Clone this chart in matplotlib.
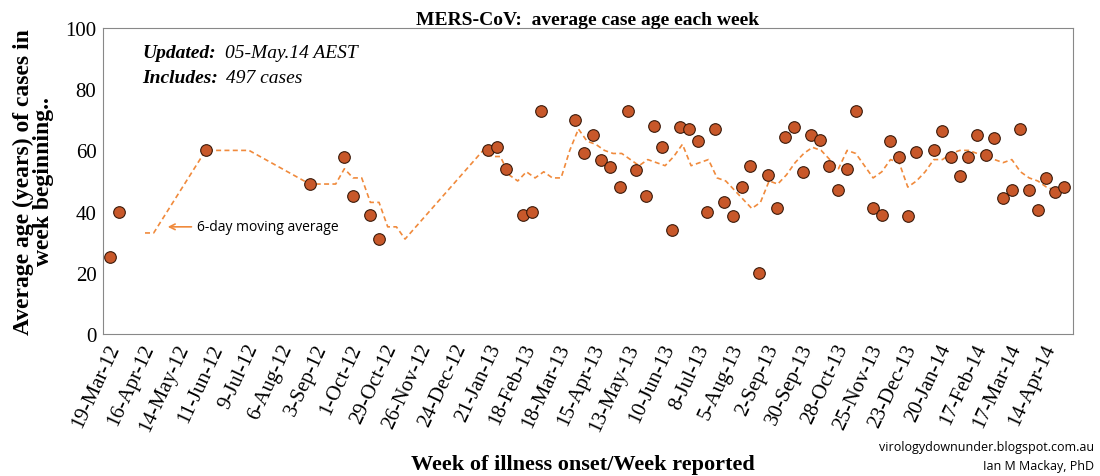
import matplotlib
matplotlib.use("Agg")
import matplotlib.pyplot as plt
import numpy as np

tick_labels = ["19-Mar-12","16-Apr-12","14-May-12","11-Jun-12","9-Jul-12","6-Aug-12","3-Sep-12",
               "1-Oct-12","29-Oct-12","26-Nov-12","24-Dec-12","21-Jan-13","18-Feb-13","18-Mar-13",
               "15-Apr-13","13-May-13","10-Jun-13","8-Jul-13","5-Aug-13","2-Sep-13","30-Sep-13",
               "28-Oct-13","25-Nov-13","23-Dec-13","20-Jan-14","17-Feb-14","17-Mar-14","14-Apr-14"]

pt_week = [0,1,11,23,27,28,30,31,43.6,44.6,45.6,47.6,48.6,49.7,53.6,54.6,55.7,56.6,57.7,58.8,59.7,60.7,
           61.8,62.7,63.7,64.8,65.7,66.7,67.8,68.8,69.7,70.8,71.8,72.9,73.8,74.8,75.9,76.9,77.8,78.9,
           79.9,80.8,81.9,82.9,84,85,86,88,89,90,91,92,93,95,96,97,98,99,100,101,102,103,104,105,106,
           107,108,109,110]
pt_age = [25,40,60,49,58,45,39,31,60,61,54,39,40,73,70,59,65,57,54.5,48,73,53.5,45,68,61,34,67.5,67,
          63,40,67,43,38.5,48,55,20,52,41,64.5,67.5,53,65,63.5,55,47,54,73,41,39,63,58,38.5,59.5,60,
          66.5,58,51.5,58,65,58.5,64,44.5,47,67,47,40.5,51,46.5,48]

ma_week = [4,5,11,16,23,26,27,28,29,30,31,32,33,34]+list(range(43,111))
ma_val = [33,33,60,60,49,49,54,51,51,43,43,35,35,31,
          60,58,58,52,50,53,51,53,51,51,60,67,63,62,60,59,59,57,55,57,56,55,58,62,55,56,57,51,50,47,
          44,41,43,50,49,52,56,59,61,60,57,54,60,59,55,51,53,57,56,48,50,53,57,57,59,60,60,59,59,57,
          56,57,53,51,50,48,47,47]

fig = plt.figure(figsize=(11,4.77), dpi=100)
ax = fig.add_axes([0.094,0.298,0.881,0.641])
ax.plot(ma_week, ma_val, ls=(0,(3,2)), color="#f08a3c", lw=1.2, zorder=2)
ax.scatter(pt_week, pt_age, s=70, color="#c8582a", edgecolor="#3a1a0a", lw=0.8, zorder=3)
ax.set_xlim(-0.8,111)
ax.set_ylim(0,100)
ax.set_xticks(np.arange(len(tick_labels))*4 - 0.5)
ax.set_xticklabels(tick_labels, rotation=65, ha="right", rotation_mode="anchor",
                   family="Liberation Serif", fontsize=15)
ax.set_yticks(range(0,101,20))
ax.set_yticklabels([str(v) for v in range(0,101,20)], family="Liberation Serif", fontsize=15)
for s in ax.spines.values():
    s.set_color("#888888")
ax.tick_params(length=0, pad=5)
ax.set_title("MERS-CoV:  average case age each week", family="Liberation Serif",
             fontweight="bold", fontsize=14, pad=3)
ax.set_ylabel("Average age (years) of cases in\nweek beginning..", family="Liberation Serif",
              fontweight="bold", fontsize=17, labelpad=8, linespacing=0.95)
fig.text(0.53,0.015,"Week of illness onset/Week reported", ha="center", family="Liberation Serif",
         fontweight="bold", fontsize=16)
ax.text(0.04,0.905,"Updated:", transform=ax.transAxes, family="Liberation Serif",
        style="italic", fontweight="bold", fontsize=14)
ax.text(0.125,0.905,"05-May.14 AEST", transform=ax.transAxes, family="Liberation Serif",
        style="italic", fontsize=14)
ax.text(0.04,0.825,"Includes:", transform=ax.transAxes, family="Liberation Serif",
        style="italic", fontweight="bold", fontsize=14)
ax.text(0.127,0.825,"497 cases", transform=ax.transAxes, family="Liberation Serif",
        style="italic", fontsize=14)
ax.annotate("6-day moving average", xy=(6.3,35), xytext=(10,35), va="center",
            fontsize=10, family="Open Sans",
            arrowprops=dict(arrowstyle="->", color="#f08a3c", lw=1.2))
fig.text(0.995,0.055,"virologydownunder.blogspot.com.au", ha="right", fontsize=9, family="Open Sans")
fig.text(0.995,0.015,"Ian M Mackay, PhD", ha="right", fontsize=9, family="Open Sans")
fig.savefig("out.png", dpi=100)
